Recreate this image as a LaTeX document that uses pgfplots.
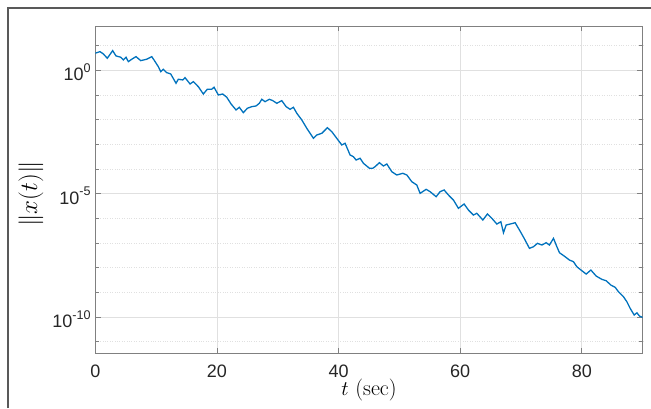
\documentclass[border=0pt]{standalone}
\usepackage{fontspec}
\usepackage{pgfplots}
\pgfplotsset{compat=1.18}
\newfontfamily\hv{Liberation Sans}
\definecolor{mblue}{RGB}{0,114,189}
% MATLAB-style 10^k tick label
\newcommand{\ytl}[1]{10\raisebox{8.5pt}{\fontsize{12.6}{13}\selectfont #1}}

\pgfplotstableread{
t y
0 4.9
0.77 5.68
1.32 4.58
1.97 3.06
2.86 6.23
3.40 3.80
4.18 3.37
4.61 2.62
5.05 3.37
5.43 2.23
5.99 2.79
6.69 3.56
7.47 2.45
8.45 2.79
9.28 3.56
9.65 2.62
10.36 1.40
10.76 0.877
11.18 1.10
11.74 0.80
12.40 0.708
13.27 0.297
13.65 0.432
14.38 0.404
14.75 0.501
15.58 0.278
16.12 0.345
16.94 0.216
17.76 0.109
18.42 0.170
19.14 0.170
19.52 0.205
20.23 0.0997
20.95 0.109
21.61 0.0805
22.32 0.0431
23.14 0.0246
23.68 0.0316
24.34 0.0191
25.00 0.0288
25.72 0.0335
26.43 0.0357
26.97 0.0459
27.37 0.0667
27.91 0.0533
28.62 0.0667
29.18 0.0586
29.84 0.0459
30.66 0.0586
31.37 0.0335
32.02 0.0262
32.57 0.0316
33.13 0.0181
33.95 0.00967
34.77 0.00446
35.86 0.00175
36.41 0.00238
37.24 0.00279
38.16 0.00471
38.88 0.00324
39.70 0.00175
40.53 9.37e-4
41.07 1.10e-3
41.89 3.69e-4
42.43 3.15e-4
42.88 2.31e-4
43.54 2.71e-4
44.08 1.70e-4
45.07 1.07e-4
45.63 1.07e-4
46.00 1.24e-4
46.71 1.80e-4
47.37 1.32e-4
47.93 1.59e-4
48.75 7.76e-5
49.57 5.70e-5
50.56 6.68e-5
51.22 5.70e-5
52.04 3.05e-5
52.86 2.24e-5
53.40 1.03e-5
54.39 1.50e-5
55.05 1.20e-5
56.04 7.52e-6
56.69 1.20e-5
57.35 1.41e-5
58.06 8.81e-6
58.88 5.53e-6
59.70 2.55e-6
60.64 3.80e-6
61.35 2.17e-6
62.17 1.36e-6
62.73 1.60e-6
63.72 8.55e-7
64.47 1.50e-6
65.20 1.00e-6
66.02 5.88e-7
66.68 7.29e-7
67.11 2.61e-7
67.55 5.36e-7
68.21 5.88e-7
69.03 6.64e-7
69.74 3.36e-7
70.51 1.55e-7
71.38 6.09e-8
72.04 7.08e-8
72.70 9.71e-8
73.42 8.29e-8
74.13 1.03e-7
74.67 8.29e-8
75.33 1.55e-7
75.89 7.08e-8
76.32 4.04e-8
77.25 2.78e-8
77.96 2.04e-8
78.62 1.75e-8
79.18 1.09e-8
80.00 7.53e-9
80.71 5.53e-9
81.48 8.04e-9
82.35 4.59e-9
83.29 3.37e-9
84.00 2.96e-9
84.77 1.98e-9
85.48 1.60e-9
86.02 1.06e-9
86.84 6.65e-10
87.40 4.17e-10
87.94 2.25e-10
88.60 1.21e-10
89.05 1.49e-10
89.47 1.10e-10
90 9.7e-11
}\normdata

\begin{document}
\begin{tikzpicture}
\path[use as bounding box] (0pt,0pt) rectangle (651pt,408pt);
\draw[black!65, line width=1.3pt] (8pt,0pt) -- (8pt,400pt) -- (651pt,400pt);
\begin{axis}[
  at={(95.3pt,55pt)}, anchor=south west,
  scale only axis, width=547.4pt, height=327pt,
  ymode=log,
  xmin=0, xmax=90, ymin=3.5e-12, ymax=62,
  tick align=inside,
  major tick length=5.5pt, minor tick length=4pt,
  xtick={0,20,40,60,80}, xticklabels={0,20,40,60,80},
  ytick={1e-10,1e-5,1}, yticklabels={\ytl{-10},\ytl{-5},\ytl{0}},
  minor ytick={1e-11,1e-9,1e-8,1e-7,1e-6,1e-4,1e-3,1e-2,1e-1,1e1},
  xmajorgrids, ymajorgrids, yminorgrids,
  major grid style={black!12, line width=0.8pt},
  minor grid style={black!12, dotted, line width=0.8pt},
  axis line style={black!50, line width=0.8pt},
  every tick/.style={black!50, line width=0.8pt},
  tick label style={font=\hv\fontsize{18}{20}\selectfont, text=black!85},
  yticklabel style={inner sep=0pt, xshift=-4.5pt, yshift=-2pt},
  xticklabel style={inner sep=0pt, yshift=-12pt},
  xlabel={$t$ (sec)},
  xlabel style={font=\fontsize{22}{24}\selectfont, at={(axis description cs:0.50,-0.131)}, anchor=base},
  ylabel={$\|x(t)\|$},
  ylabel style={font=\fontsize{27}{29}\selectfont, at={(axis description cs:-0.1175,0.486)}, anchor=center},
]
\addplot[mblue, line width=1.3pt] table[x=t, y=y] {\normdata};
\end{axis}
\end{tikzpicture}
\end{document}
